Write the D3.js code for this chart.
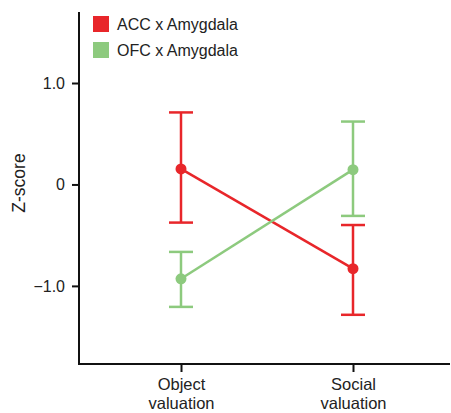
<!DOCTYPE html>
<html><head><meta charset="utf-8">
<script src="https://cdn.jsdelivr.net/npm/d3@7"></script>
<style>body{margin:0;background:#fff}svg{display:block}text{font-family:Arial,"Liberation Sans",sans-serif}</style>
</head><body>
<svg id="c" width="451" height="413"></svg>
<script>
const categories = ["Object\nvaluation", "Social\nvaluation"];
const seriesNames = ["ACC x Amygdala", "OFC x Amygdala"];
const seriesColors = ["#e8262a", "#8dca7e"];
const accMean = [0.153, -0.83];
const accUpper = [0.71, -0.40];
const accLower = [-0.376, -1.285];
const ofcMean = [-0.93, 0.146];
const ofcUpper = [-0.665, 0.62];
const ofcLower = [-1.207, -0.31];
const yTicks = [1.0, 0, -1.0];
const yTickLabels = ["1.0", "0", "\u22121.0"];

const series = [
  {name: seriesNames[0], color: seriesColors[0], mean: accMean, up: accUpper, lo: accLower},
  {name: seriesNames[1], color: seriesColors[1], mean: ofcMean, up: ofcUpper, lo: ofcLower}
];

const svg = d3.select("#c");
const mLeft = 79, mRight = 450, mTop = 12, mBottom = 364;
const y = d3.scaleLinear().domain([-1.77, 1.70]).range([mBottom, mTop]);
const x = d3.scalePoint().domain(categories).range([181, 353]);

// y axis
const yAxis = svg.append("g").attr("transform", `translate(${mLeft},0)`)
  .call(d3.axisLeft(y).tickValues(yTicks).tickFormat((d,i)=>yTickLabels[i]).tickSize(7).tickPadding(7));
yAxis.select(".domain").remove();
svg.append("line").attr("x1", mLeft).attr("x2", mLeft).attr("y1", mTop).attr("y2", mBottom+1)
  .attr("stroke", "#111").attr("stroke-width", 2);
yAxis.selectAll(".tick line").attr("stroke", "#111").attr("stroke-width", 2);
yAxis.selectAll(".tick text").attr("font-size", 16).attr("fill", "#222");
yAxis.attr("font-family", null);

// x axis
const xAxis = svg.append("g").attr("transform", `translate(0,${mBottom})`)
  .call(d3.axisBottom(x).tickSize(8).tickFormat(""));
xAxis.select(".domain").remove();
svg.append("line").attr("x1", mLeft-1).attr("x2", mRight).attr("y1", mBottom).attr("y2", mBottom)
  .attr("stroke", "#111").attr("stroke-width", 2);
xAxis.selectAll(".tick line").attr("stroke", "#111").attr("stroke-width", 2);
xAxis.selectAll(".tick").each(function(d){
  const lines = d.split("\n");
  lines.forEach((s,i)=>{
    d3.select(this).append("text").attr("fill", "#222").attr("font-size", 16.5)
      .attr("text-anchor", "middle").attr("x", 0).attr("y", 26 + i*19).text(s);
  });
});
xAxis.attr("font-family", null);

// y label
svg.append("text").attr("transform", "translate(25,183) rotate(-90)")
  .attr("text-anchor", "middle").attr("font-size", 17.5).attr("fill", "#222").text("Z-score");

// series
const capW = 12;
series.forEach(s => {
  const g = svg.append("g");
  g.append("path").datum(categories.map((c,i)=>[x(c), y(s.mean[i])]))
    .attr("d", d3.line()).attr("fill", "none").attr("stroke", s.color).attr("stroke-width", 2.5);
  categories.forEach((c,i) => {
    const cx = x(c);
    g.append("line").attr("x1", cx).attr("x2", cx).attr("y1", y(s.up[i])).attr("y2", y(s.lo[i]))
      .attr("stroke", s.color).attr("stroke-width", 2.5);
    [s.up[i], s.lo[i]].forEach(v => {
      g.append("line").attr("x1", cx-capW).attr("x2", cx+capW).attr("y1", y(v)).attr("y2", y(v))
        .attr("stroke", s.color).attr("stroke-width", 2.5);
    });
    g.append("circle").attr("cx", cx).attr("cy", y(s.mean[i])).attr("r", 5.5).attr("fill", s.color);
  });
});

// legend
series.forEach((s,i) => {
  const ly = 16 + i*26;
  svg.append("rect").attr("x", 93).attr("y", ly).attr("width", 16).attr("height", 16).attr("fill", s.color);
  svg.append("text").attr("x", 117).attr("y", ly+14).attr("font-size", 16).attr("fill", "#222").text(s.name);
});
</script>
</body></html>
